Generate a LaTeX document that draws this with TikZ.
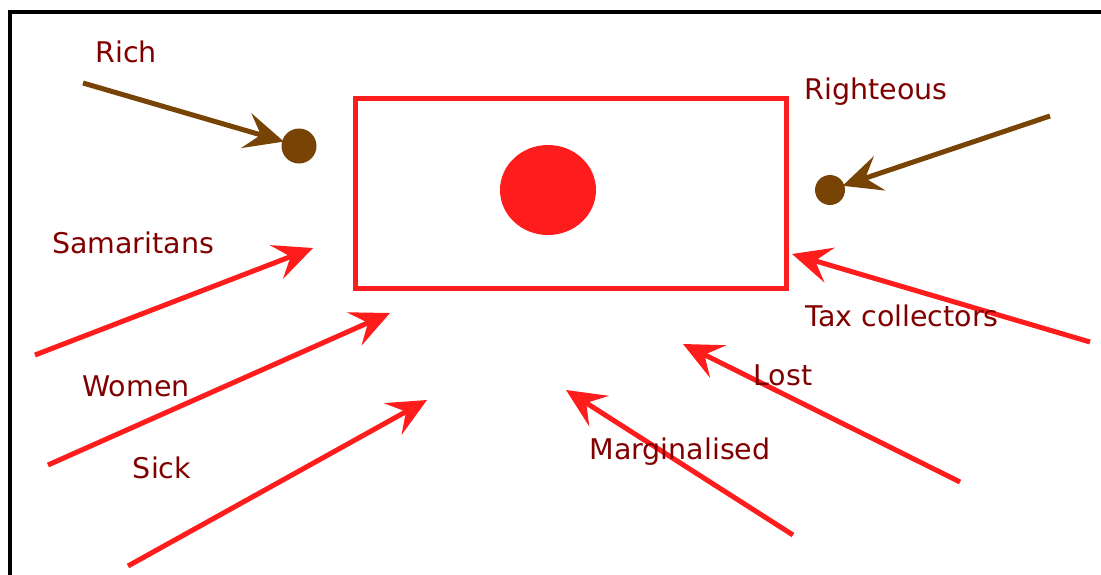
\documentclass[tikz,border=0pt]{standalone}
\usepackage{fontspec}
\setmainfont{DejaVu Sans}
\usetikzlibrary{arrows.meta,shapes.geometric}
\definecolor{myred}{HTML}{FF1C1C}
\definecolor{mybrown}{HTML}{784405}
\definecolor{lbl}{HTML}{800000}
\tikzset{
  lab/.style={text=lbl,font=\fontsize{28.5}{31}\selectfont,inner sep=0pt,anchor=center},
  redarrow/.style={draw=myred,line width=5pt,-{Stealth[length=39pt,width=36pt,inset=15pt]}},
  brownarrow/.style={draw=mybrown,line width=5pt,-{Stealth[length=39pt,width=36pt,inset=15pt]}},
  dot/.style={circle,fill=mybrown,draw=none,inner sep=0pt}
}
\begin{document}
\begin{tikzpicture}[x=1pt,y=-1pt]
\useasboundingbox (0,0) rectangle (1101,574);
\fill[white] (0,0) rectangle (1101,574);
% frame
\draw[black,line width=4.5pt] (10,600) -- (10,12) -- (1120,12);
% box
\node[draw=myred,line width=5pt,minimum width=431pt,minimum height=190pt,inner sep=0pt] (box) at (570.5,193) {};
\node[ellipse,fill=myred,minimum width=96pt,minimum height=90pt,inner sep=0pt] (sun) at (548,190) {};
% brown dots
\node[dot,minimum size=35pt] (d1) at (299,146) {};
\node[dot,minimum size=30pt] (d2) at (830,190) {};
% coordinates
\coordinate (richS) at (83,83);
\coordinate (rightS) at (1050,116);
\coordinate (samS) at (35,355);  \coordinate (samE) at (313,248);
\coordinate (womS) at (48,465);  \coordinate (womE) at (390,313);
\coordinate (sickS) at (128,566); \coordinate (sickE) at (427,400);
\coordinate (marS) at (793,535); \coordinate (marE) at (566,390);
\coordinate (lostS) at (960,482); \coordinate (lostE) at (683,344);
\coordinate (taxS) at (1090,342); \coordinate (taxE) at (792,254);
% arrows
\draw[brownarrow,shorten >=-2pt] (richS) -- (d1);
\draw[brownarrow,shorten >=-2pt] (rightS) -- (d2);
\draw[redarrow] (samS) -- (samE);
\draw[redarrow] (womS) -- (womE);
\draw[redarrow] (sickS) -- (sickE);
\draw[redarrow] (marS) -- (marE);
\draw[redarrow] (lostS) -- (lostE);
\draw[redarrow] (taxS) -- (taxE);
% labels
\node[lab] (rich) at (126,52) {Rich};
\node[lab] (righteous) at (876,92) {Righteous};
\node[lab] (sam) at (133,243) {Samaritans};
\node[lab] (women) at (136,386) {Women};
\node[lab] (sick) at (162,468) {Sick};
\node[lab] (marg) at (680,452) {Marginalised};
\node[lab] (lost) at (783,375) {Lost};
\node[lab] (tax) at (902,316) {Tax collectors};
\end{tikzpicture}
\end{document}
